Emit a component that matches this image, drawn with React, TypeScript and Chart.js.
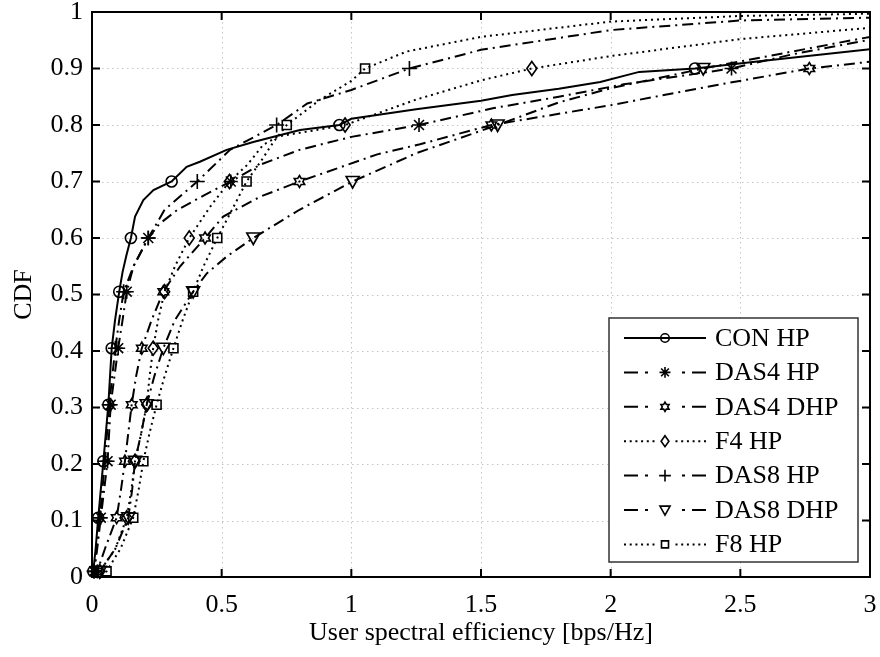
import React, { useEffect, useRef } from 'react';
import { Chart, registerables } from 'chart.js';

Chart.register(...registerables);

// Axis tick labels
const xTickLabels = ['0', '0.5', '1', '1.5', '2', '2.5', '3'];
const yTickLabels = ['0', '0.1', '0.2', '0.3', '0.4', '0.5', '0.6', '0.7', '0.8', '0.9', '1'];

// CDF levels at which a marker is placed on each curve
const markerLevels = [0.01, 0.105, 0.205, 0.305, 0.405, 0.505, 0.6, 0.7, 0.8, 0.9];

const seriesNames = ['CON HP', 'DAS4 HP', 'DAS4 DHP', 'F4 HP', 'DAS8 HP', 'DAS8 DHP', 'F8 HP'];

// CON HP
const conX = [0, 0.005, 0.014, 0.024, 0.044, 0.063, 0.076, 0.089, 0.105, 0.118, 0.133, 0.15, 0.166, 0.198, 0.237, 0.307, 0.365, 0.416, 0.519, 0.622, 0.802, 0.954, 1.0, 1.25, 1.5, 1.62, 1.8, 1.96, 2.11, 2.325, 2.6, 3.0];
const conY = [0, 0.01, 0.05, 0.105, 0.205, 0.305, 0.405, 0.455, 0.505, 0.54, 0.57, 0.6, 0.638, 0.667, 0.685, 0.7, 0.726, 0.735, 0.756, 0.77, 0.791, 0.8, 0.811, 0.828, 0.843, 0.853, 0.864, 0.876, 0.894, 0.9, 0.914, 0.934];

// DAS4 HP
const das4hpX = [0, 0.008, 0.02, 0.034, 0.06, 0.072, 0.101, 0.118, 0.134, 0.16, 0.217, 0.26, 0.33, 0.43, 0.535, 0.65, 0.8, 1.0, 1.261, 1.55, 1.8, 2.05, 2.466, 2.7, 3.0];
const das4hpY = [0, 0.01, 0.05, 0.105, 0.205, 0.305, 0.405, 0.455, 0.505, 0.55, 0.6, 0.625, 0.65, 0.675, 0.7, 0.73, 0.756, 0.779, 0.8, 0.83, 0.85, 0.872, 0.9, 0.925, 0.951];

// DAS4 DHP
const das4dhpX = [0, 0.02, 0.05, 0.095, 0.112, 0.127, 0.14, 0.153, 0.17, 0.192, 0.23, 0.275, 0.34, 0.436, 0.506, 0.648, 0.8, 1.1, 1.265, 1.54, 2.0, 2.4, 2.766, 3.0];
const das4dhpY = [0, 0.01, 0.05, 0.105, 0.155, 0.205, 0.255, 0.305, 0.355, 0.405, 0.455, 0.505, 0.55, 0.6, 0.638, 0.673, 0.7, 0.748, 0.766, 0.8, 0.835, 0.87, 0.9, 0.912];

// F4 HP
const f4hpX = [0, 0.03, 0.09, 0.134, 0.152, 0.166, 0.19, 0.211, 0.222, 0.236, 0.255, 0.28, 0.32, 0.375, 0.455, 0.53, 0.6, 0.66, 0.72, 0.85, 0.976, 1.25, 1.5, 1.696, 2.0, 2.5, 3.0];
const f4hpY = [0, 0.01, 0.05, 0.105, 0.155, 0.205, 0.255, 0.305, 0.355, 0.405, 0.455, 0.505, 0.55, 0.6, 0.655, 0.7, 0.73, 0.765, 0.78, 0.79, 0.8, 0.845, 0.879, 0.9, 0.922, 0.952, 0.972];

// DAS8 HP
const das8hpX = [0, 0.008, 0.018, 0.03, 0.05, 0.066, 0.09, 0.105, 0.122, 0.16, 0.217, 0.28, 0.406, 0.532, 0.712, 0.83, 1.0, 1.224, 1.5, 2.0, 2.5, 3.0];
const das8hpY = [0, 0.01, 0.05, 0.105, 0.205, 0.305, 0.405, 0.455, 0.505, 0.55, 0.6, 0.65, 0.7, 0.756, 0.8, 0.838, 0.862, 0.9, 0.933, 0.968, 0.985, 0.99];

// DAS8 DHP
const das8dhpX = [0, 0.03, 0.09, 0.14, 0.155, 0.166, 0.19, 0.211, 0.24, 0.275, 0.32, 0.39, 0.442, 0.519, 0.622, 0.8, 1.005, 1.25, 1.564, 1.8, 2.0, 2.357, 2.7, 3.0];
const das8dhpY = [0, 0.01, 0.05, 0.105, 0.155, 0.205, 0.255, 0.305, 0.355, 0.405, 0.455, 0.505, 0.537, 0.567, 0.6, 0.65, 0.7, 0.75, 0.8, 0.84, 0.865, 0.9, 0.93, 0.956];

// F8 HP
const f8hpX = [0.01, 0.056, 0.11, 0.159, 0.18, 0.198, 0.222, 0.249, 0.28, 0.314, 0.35, 0.39, 0.43, 0.483, 0.54, 0.596, 0.65, 0.7, 0.751, 0.88, 1.0, 1.053, 1.213, 1.5, 2.0, 2.5, 3.0];
const f8hpY = [0, 0.01, 0.05, 0.105, 0.155, 0.205, 0.255, 0.305, 0.355, 0.405, 0.455, 0.505, 0.55, 0.6, 0.65, 0.7, 0.735, 0.77, 0.8, 0.845, 0.878, 0.9, 0.93, 0.956, 0.983, 0.993, 0.997];

const seriesX = [conX, das4hpX, das4dhpX, f4hpX, das8hpX, das8dhpX, f8hpX];
const seriesY = [conY, das4hpY, das4dhpY, f4hpY, das8hpY, das8dhpY, f8hpY];

type LineKind = 'solid' | 'dashdot' | 'dotted';
type MarkerKind = 'circle' | 'asterisk' | 'hexagram' | 'diamond' | 'plus' | 'triangleDown' | 'square';

const seriesLine: LineKind[] = ['solid', 'dashdot', 'dashdot', 'dotted', 'dashdot', 'dashdot', 'dotted'];
const seriesMarker: MarkerKind[] = ['circle', 'asterisk', 'hexagram', 'diamond', 'plus', 'triangleDown', 'square'];

const FONT = "'Liberation Serif', 'Times New Roman', serif";

const dashFor = (k: LineKind): number[] =>
  k === 'solid' ? [] : k === 'dashdot' ? [11, 5, 2, 5] : [2, 4];

function drawMarker(ctx: CanvasRenderingContext2D, kind: MarkerKind, x: number, y: number, s: number) {
  ctx.beginPath();
  switch (kind) {
    case 'circle':
      ctx.arc(x, y, 5.5 * s, 0, Math.PI * 2);
      break;
    case 'asterisk': {
      const r = 7 * s;
      const d = r * Math.SQRT1_2;
      ctx.moveTo(x, y - r); ctx.lineTo(x, y + r);
      ctx.moveTo(x - r, y); ctx.lineTo(x + r, y);
      ctx.moveTo(x - d, y - d); ctx.lineTo(x + d, y + d);
      ctx.moveTo(x - d, y + d); ctx.lineTo(x + d, y - d);
      break;
    }
    case 'hexagram': {
      const ro = 6 * s;
      const ri = ro / Math.sqrt(3);
      for (let k = 0; k < 12; k++) {
        const a = -Math.PI / 2 + (k * Math.PI) / 6;
        const r = k % 2 === 0 ? ro : ri;
        const px = x + r * Math.cos(a);
        const py = y + r * Math.sin(a);
        if (k === 0) ctx.moveTo(px, py); else ctx.lineTo(px, py);
      }
      ctx.closePath();
      break;
    }
    case 'diamond': {
      const w = 5 * s, h = 7 * s;
      ctx.moveTo(x, y - h); ctx.lineTo(x + w, y); ctx.lineTo(x, y + h); ctx.lineTo(x - w, y);
      ctx.closePath();
      break;
    }
    case 'plus': {
      const r = 7.5 * s;
      ctx.moveTo(x, y - r); ctx.lineTo(x, y + r);
      ctx.moveTo(x - r, y); ctx.lineTo(x + r, y);
      break;
    }
    case 'triangleDown': {
      const w = 6.5 * s;
      ctx.moveTo(x - w, y - 5 * s); ctx.lineTo(x + w, y - 5 * s); ctx.lineTo(x, y + 6.5 * s);
      ctx.closePath();
      break;
    }
    case 'square': {
      const h = 4.5 * s;
      ctx.rect(x - h, y - h, 2 * h, 2 * h);
      break;
    }
  }
  ctx.stroke();
}

// Dotted grid underneath the curves
const gridPlugin = {
  id: 'dottedGrid',
  beforeDatasetsDraw(chart: any) {
    const { ctx, chartArea: a, scales } = chart;
    ctx.save();
    ctx.strokeStyle = '#c4c4c4';
    ctx.lineWidth = 1;
    ctx.setLineDash([1.5, 3.5]);
    xTickLabels.forEach((t) => {
      const px = Math.round(scales.x.getPixelForValue(Number(t))) + 0.5;
      ctx.beginPath(); ctx.moveTo(px, a.top); ctx.lineTo(px, a.bottom); ctx.stroke();
    });
    yTickLabels.forEach((t) => {
      const py = Math.round(scales.y.getPixelForValue(Number(t))) + 0.5;
      ctx.beginPath(); ctx.moveTo(a.left, py); ctx.lineTo(a.right, py); ctx.stroke();
    });
    ctx.restore();
  },
};

// Axes box with inward tick marks on all four sides
const framePlugin = {
  id: 'axesFrame',
  afterDatasetsDraw(chart: any) {
    const { ctx, chartArea: a, scales } = chart;
    const tl = 8;
    ctx.save();
    ctx.setLineDash([]);
    ctx.strokeStyle = '#000';
    ctx.lineWidth = 2;
    ctx.strokeRect(a.left, a.top, a.right - a.left, a.bottom - a.top);
    ctx.beginPath();
    xTickLabels.forEach((t) => {
      const px = scales.x.getPixelForValue(Number(t));
      ctx.moveTo(px, a.bottom); ctx.lineTo(px, a.bottom - tl);
      ctx.moveTo(px, a.top); ctx.lineTo(px, a.top + tl);
    });
    yTickLabels.forEach((t) => {
      const py = scales.y.getPixelForValue(Number(t));
      ctx.moveTo(a.left, py); ctx.lineTo(a.left + tl, py);
      ctx.moveTo(a.right, py); ctx.lineTo(a.right - tl, py);
    });
    ctx.stroke();
    ctx.restore();
  },
};

// Markers at the fixed CDF levels
const markerPlugin = {
  id: 'cdfMarkers',
  afterDatasetsDraw(chart: any) {
    const ctx = chart.ctx;
    ctx.save();
    ctx.strokeStyle = '#000';
    ctx.lineWidth = 1.6;
    ctx.setLineDash([]);
    chart.data.datasets.forEach((ds: any, i: number) => {
      const meta = chart.getDatasetMeta(i);
      meta.data.forEach((el: any, j: number) => {
        if (markerLevels.includes(ds.data[j].y)) drawMarker(ctx, seriesMarker[i], el.x, el.y, 1);
      });
    });
    ctx.restore();
  },
};

function legendSample(ctx: CanvasRenderingContext2D, kind: LineKind, x0: number, x1: number, y: number) {
  const mid = (x0 + x1) / 2;
  ctx.beginPath();
  if (kind === 'solid') {
    ctx.moveTo(x0, y); ctx.lineTo(x1, y);
  } else if (kind === 'dashdot') {
    const segs = [[x0, x0 + 14], [x0 + 21, x0 + 24], [x1 - 24, x1 - 21], [x1 - 14, x1]];
    segs.forEach(([a, b]) => { ctx.moveTo(a, y); ctx.lineTo(b, y); });
  } else {
    for (let px = x0; px < mid - 7; px += 5.7) { ctx.moveTo(px, y); ctx.lineTo(px + 2, y); }
    for (let px = x1 - 2; px > mid + 7; px -= 5.7) { ctx.moveTo(px, y); ctx.lineTo(px + 2, y); }
  }
  ctx.stroke();
}

const legendPlugin = {
  id: 'boxLegend',
  afterDraw(chart: any) {
    const { ctx, chartArea: a } = chart;
    const w = 249, h = 244;
    const bx = a.right - 12 - w;
    const by = a.bottom - 15 - h;
    ctx.save();
    ctx.setLineDash([]);
    ctx.fillStyle = '#fff';
    ctx.fillRect(bx, by, w, h);
    ctx.strokeStyle = '#333';
    ctx.lineWidth = 1.5;
    ctx.strokeRect(bx, by, w, h);
    ctx.font = `26px ${FONT}`;
    ctx.textBaseline = 'middle';
    ctx.textAlign = 'left';
    seriesNames.forEach((name, i) => {
      const ry = by + 20 + i * 34.4;
      ctx.strokeStyle = '#000';
      ctx.lineWidth = 2;
      legendSample(ctx, seriesLine[i], bx + 15, bx + 97, ry);
      ctx.lineWidth = 1.6;
      drawMarker(ctx, seriesMarker[i], bx + 56, ry, 0.78);
      ctx.fillStyle = '#000';
      ctx.fillText(name, bx + 106, ry + 1);
    });
    ctx.restore();
  },
};

// Keep the plot box exactly where the layout padding puts it
const noLabelOverhang = (s: any) => {
  s.paddingTop = 0;
  s.paddingBottom = 0;
  s.paddingLeft = 0;
  s.paddingRight = 0;
};

export default function App() {
  const canvasRef = useRef<HTMLCanvasElement | null>(null);

  useEffect(() => {
    if (!canvasRef.current) return;
    const datasets = seriesNames.map((name, i) => ({
      label: name,
      data: seriesX[i].map((x, j) => ({ x, y: seriesY[i][j] })),
      showLine: true,
      borderColor: '#000',
      backgroundColor: '#000',
      borderWidth: 2,
      borderDash: dashFor(seriesLine[i]),
      pointRadius: 0,
      pointHoverRadius: 0,
      tension: 0,
      fill: false,
    }));

    const chart = new Chart(canvasRef.current, {
      type: 'scatter',
      data: { datasets },
      options: {
        animation: false,
        responsive: false,
        devicePixelRatio: 1,
        events: [],
        layout: { padding: { top: 12, right: 10, left: 0, bottom: 0 } },
        plugins: { legend: { display: false }, tooltip: { enabled: false } },
        scales: {
          x: {
            type: 'linear',
            min: 0,
            max: 3,
            afterFit: (s: any) => { s.height = 80; noLabelOverhang(s); },
            grid: { display: false, drawTicks: false },
            border: { display: false },
            ticks: {
              stepSize: 0.5,
              autoSkip: false,
              maxRotation: 0,
              padding: 16,
              color: '#000',
              font: { family: FONT, size: 26, lineHeight: 0.9 },
              callback: (v: any) => xTickLabels[Math.round(Number(v) * 2)] ?? '',
            },
            title: {
              display: true,
              text: 'User spectral efficiency [bps/Hz]',
              color: '#000',
              font: { family: FONT, size: 26, lineHeight: 1.2 },
              padding: { top: 0, bottom: 8 },
            },
          },
          y: {
            type: 'linear',
            min: 0,
            max: 1,
            afterFit: (s: any) => { s.width = 92; noLabelOverhang(s); },
            grid: { display: false, drawTicks: false },
            border: { display: false },
            ticks: {
              stepSize: 0.1,
              autoSkip: false,
              padding: 9,
              color: '#000',
              font: { family: FONT, size: 26, lineHeight: 0.9 },
              callback: (v: any) => yTickLabels[Math.round(Number(v) * 10)] ?? '',
            },
            title: {
              display: true,
              text: 'CDF',
              color: '#000',
              font: { family: FONT, size: 26, lineHeight: 1.2 },
              padding: { top: 9, bottom: 0 },
            },
          },
        },
      },
      plugins: [gridPlugin, framePlugin, markerPlugin, legendPlugin],
    });

    return () => chart.destroy();
  }, []);

  return (
    <div style={{ position: 'absolute', left: 0, top: 0, width: 880, height: 657, background: '#fff' }}>
      <canvas ref={canvasRef} width={880} height={657} />
    </div>
  );
}
